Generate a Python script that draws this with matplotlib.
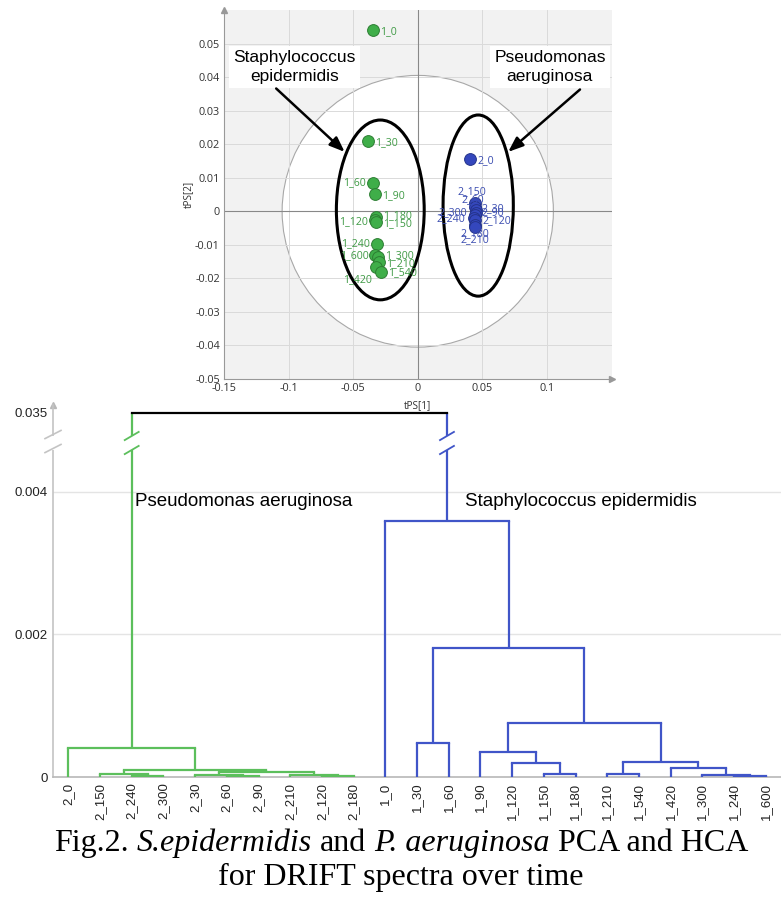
import numpy as np
import matplotlib
matplotlib.use('Agg')
import matplotlib.pyplot as plt
from matplotlib.patches import Ellipse, Rectangle
import matplotlib.transforms as mtransforms

plt.rcParams['font.family'] = ['Liberation Sans', 'DejaVu Sans']
plt.rcParams['axes.unicode_minus'] = False

# ---------------- PCA data ----------------
staph_labels = ['1_0', '1_30', '1_60', '1_90', '1_180', '1_120', '1_150', '1_240',
                '1_600', '1_300', '1_210', '1_420', '1_540']
staph_t1 = [-0.0349, -0.0388, -0.0349, -0.0333, -0.0326, -0.0330, -0.0326, -0.0316,
            -0.0328, -0.0308, -0.0300, -0.0326, -0.0287]
staph_t2 = [0.0540, 0.0209, 0.0083, 0.0050, -0.0017, -0.0025, -0.0032, -0.0099,
            -0.0131, -0.0136, -0.0151, -0.0166, -0.0181]

pseudo_labels = ['2_0', '2_150', '2_60', '2_30', '2_90', '2_300', '2_240', '2_120',
                 '2_180', '2_210']
pseudo_t1 = [0.0408, 0.0447, 0.0445, 0.0450, 0.0448, 0.0440, 0.0432, 0.0445, 0.0445, 0.0443]
pseudo_t2 = [0.0155, 0.0024, 0.0012, 0.0004, -0.0006, -0.0010, -0.0020, -0.0025,
             -0.0040, -0.0047]

pca_xticks = [-0.15, -0.1, -0.05, 0, 0.05, 0.1]
pca_xticklabels = ['-0.15', '-0.1', '-0.05', '0', '0.05', '0.1']
pca_yticks = [-0.05, -0.04, -0.03, -0.02, -0.01, 0, 0.01, 0.02, 0.03, 0.04, 0.05]
pca_yticklabels = ['-0.05', '-0.04', '-0.03', '-0.02', '-0.01', '0', '0.01', '0.02',
                   '0.03', '0.04', '0.05']

# ---------------- HCA data ----------------
leaf_labels = ['2_0', '2_150', '2_240', '2_300', '2_30', '2_60', '2_90', '2_210', '2_120',
               '2_180', '1_0', '1_30', '1_60', '1_90', '1_120', '1_150', '1_180', '1_210',
               '1_540', '1_420', '1_300', '1_240', '1_600']
# merges: node ids 0..22 are leaves, merge j creates node 23+j
merge_left = [2, 1, 5, 4, 8, 7, 26, 24, 0,
              11, 15, 14, 13, 17, 21, 20, 19, 36, 35, 32, 10, 31]
merge_right = [3, 23, 6, 25, 9, 27, 28, 29, 30,
               12, 16, 33, 34, 18, 22, 37, 38, 39, 40, 41, 42, 43]
merge_height = [0.000019, 0.000037, 0.000019, 0.000030, 0.000012, 0.000028, 0.000066,
                0.000098, 0.000403,
                0.000484, 0.000037, 0.000196, 0.000344, 0.000037, 0.000019, 0.000028,
                0.000122, 0.000210, 0.000762, 0.00181, 0.00359, 0.035]
hca_yticks = [0, 0.002, 0.004, 0.035]
hca_yticklabels = ['0', '0.002', '0.004', '0.035']

GREEN_PT = '#3fae49'
GREEN_PT_EDGE = '#2c7d32'
GREEN_TXT = '#3f9a45'
BLUE_PT = '#3447bd'
BLUE_PT_EDGE = '#24338a'
BLUE_TXT = '#3a4cb0'
GREEN_LN = '#5cbf5c'
BLUE_LN = '#4055c8'

fig = plt.figure(figsize=(7.81, 8.97), dpi=100)
W, H = 781.0, 897.0

# ================= HCA panel (drawn first, below PCA) =================
ax2 = fig.add_axes([53 / W, (H - 777) / H, (W - 53) / W, (777 - 405) / H])
ax2.patch.set_visible(False)
BRK, K = 0.0045, 0.02


def fwd(y):
    y = np.asarray(y, dtype=float)
    return np.where(y <= BRK, y, BRK + (y - BRK) * K)


def inv(y):
    y = np.asarray(y, dtype=float)
    return np.where(y <= BRK, y, BRK + (y - BRK) / K)


ax2.set_yscale('function', functions=(fwd, inv))
n = len(leaf_labels)
ax2.set_xlim(-0.483, (781 - 68.3) / 31.7)
ax2.set_ylim(0, 0.0405)

pos = {i: float(i) for i in range(n)}
hgt = {i: 0.0 for i in range(n)}
grp = {i: leaf_labels[i][0] for i in range(n)}
col_of = {'1': BLUE_LN, '2': GREEN_LN}
for j, (a, b, h) in enumerate(zip(merge_left, merge_right, merge_height)):
    node = n + j
    ga, gb = grp[a], grp[b]
    ca, cb = col_of.get(ga, 'black'), col_of.get(gb, 'black')
    hc = ca if ga == gb else 'black'
    ax2.plot([pos[a], pos[a]], [hgt[a], h], color=ca, lw=1.6, zorder=3,
             solid_capstyle='butt')
    ax2.plot([pos[b], pos[b]], [hgt[b], h], color=cb, lw=1.6, zorder=3,
             solid_capstyle='butt')
    ax2.plot([pos[a], pos[b]], [h, h], color=hc, lw=1.6, zorder=3)
    pos[node] = (pos[a] + pos[b]) / 2
    hgt[node] = h
    grp[node] = ga if ga == gb else 'x'

ax2.set_xticks(range(n))
ax2.set_xticklabels(leaf_labels, rotation=90, fontsize=9.5)
ax2.set_yticks(hca_yticks)
ax2.set_yticklabels(hca_yticklabels, fontsize=9.5)
ax2.tick_params(length=0, pad=4, colors='#222222')
for s in ['top', 'right']:
    ax2.spines[s].set_visible(False)
ax2.spines['left'].set_color('#c4c4c4')
ax2.spines['left'].set_linewidth(1.2)
ax2.spines['bottom'].set_color('#b8b8b8')
ax2.spines['bottom'].set_linewidth(1.2)
for yv in hca_yticks[1:3]:
    ax2.axhline(yv, color='#e4e4e4', lw=1.0, zorder=1)
ax2.plot([0], [1], marker='^', color='#b8b8b8', markersize=5, transform=ax2.transAxes,
         clip_on=False)

# axis break band and slashes
b_lo, b_hi = (777 - 450) / 372.0, (777 - 436) / 372.0
ax2.add_patch(Rectangle((-0.06, b_lo), 1.06, b_hi - b_lo, transform=ax2.transAxes,
                        facecolor='white', edgecolor='none', zorder=4, clip_on=False))
bt = mtransforms.blended_transform_factory(ax2.transData, ax2.transAxes)
top_nodes = [merge_left[-1], merge_right[-1]]
for node in top_nodes:
    x = pos[node]
    c = col_of.get(grp[node], 'black')
    for yb in (b_lo, b_hi):
        ax2.plot([x - 0.22, x + 0.22], [yb - 0.011, yb + 0.011], color=c, lw=1.3,
                 transform=bt, zorder=5, clip_on=False)
for yb in (b_lo + 0.004, b_hi + 0.004):
    ax2.plot([-0.011, 0.011], [yb - 0.011, yb + 0.011], color='#c4c4c4', lw=1.2,
             transform=ax2.transAxes, zorder=5, clip_on=False)

ax2.text(2.1, 0.00386, 'Pseudomonas aeruginosa', fontsize=13.5, ha='left', va='center',
         zorder=6)
ax2.text(12.52, 0.00386, 'Staphylococcus epidermidis', fontsize=13.5, ha='left',
         va='center', zorder=6)

# ================= PCA panel =================
ax1 = fig.add_axes([224 / W, (H - 379) / H, (611.5 - 224) / W, (379 - 10) / H])
ax1.set_xlim(-0.15, 0.15)
ax1.set_ylim(-0.05, 0.06)
ax1.set_facecolor('#f2f2f2')
ax1.add_patch(Ellipse((0, 0), 2 * 0.105, 2 * 0.0405, facecolor='white',
                      edgecolor='#a8a8a8', lw=0.8, zorder=1))
ax1.set_axisbelow('line')
ax1.set_xticks(pca_xticks)
ax1.set_xticklabels(pca_xticklabels)
ax1.set_yticks(pca_yticks)
ax1.set_yticklabels(pca_yticklabels)
ax1.grid(True, color='#dadada', lw=0.7)
ax1.tick_params(length=0, labelsize=7.8, colors='#333333', pad=3)
for s in ['top', 'right']:
    ax1.spines[s].set_visible(False)
for s in ['left', 'bottom']:
    ax1.spines[s].set_color('#999999')
    ax1.spines[s].set_linewidth(0.8)
ax1.axhline(0, color='#888888', lw=0.8, zorder=1.6)
ax1.axvline(0, color='#888888', lw=0.8, zorder=1.6)
ax1.plot([0], [1], marker='^', color='#999999', markersize=5, transform=ax1.transAxes,
         clip_on=False)
ax1.plot([1], [0], marker='>', color='#999999', markersize=5, transform=ax1.transAxes,
         clip_on=False)
ax1.set_xlabel('tPS[1]', fontsize=7.2, color='#333333', labelpad=4, family='Open Sans')
ax1.set_ylabel('tPS[2]', fontsize=7.2, color='#333333', labelpad=1, family='Open Sans')
for lab in ax1.get_xticklabels() + ax1.get_yticklabels():
    lab.set_family('Open Sans')

# group ellipses
ax1.add_patch(Ellipse((-0.0290, 0.0004), 0.068, 0.0536, facecolor='none',
                      edgecolor='black', lw=2.2, zorder=2))
ax1.add_patch(Ellipse((0.0468, 0.0017), 0.0544, 0.054, facecolor='none',
                      edgecolor='black', lw=2.2, zorder=2))

ax1.scatter(staph_t1, staph_t2, s=72, color=GREEN_PT, edgecolor=GREEN_PT_EDGE,
            linewidth=0.7, zorder=3)
ax1.scatter(pseudo_t1, pseudo_t2, s=72, color=BLUE_PT, edgecolor=BLUE_PT_EDGE,
            linewidth=0.7, zorder=3)

label_offsets = {
    '1_0': (7, -1, 'left'), '1_30': (7, -1, 'left'), '1_60': (-7, 1, 'right'),
    '1_90': (7, -1, 'left'), '1_180': (7, 1, 'left'), '1_120': (-7, -2, 'right'),
    '1_150': (7, -2, 'left'), '1_240': (-7, 1, 'right'), '1_600': (-7, 0, 'right'),
    '1_300': (7, 1, 'left'), '1_210': (7, -2, 'left'), '1_420': (-4, -13, 'right'),
    '1_540': (7, -1, 'left'),
    '2_0': (7, -1, 'left'), '2_150': (-4, 12, 'center'), '2_60': (-2, 8, 'center'),
    '2_30': (6, 1, 'left'), '2_90': (6, 1, 'left'), '2_300': (-7, 2, 'right'),
    '2_240': (-8, -1, 'right'), '2_120': (7, -1, 'left'), '2_180': (0, -9, 'center'),
    '2_210': (0, -13, 'center'),
}
for labs, xs, ys, col in [(staph_labels, staph_t1, staph_t2, GREEN_TXT),
                          (pseudo_labels, pseudo_t1, pseudo_t2, BLUE_TXT)]:
    for lab, x, y in zip(labs, xs, ys):
        dx, dy, ha = label_offsets[lab]
        ax1.annotate(lab, (x, y), xytext=(dx, dy), textcoords='offset pixels',
                     ha=ha, va='center', fontsize=7.6, color=col, zorder=4,
                     family='Open Sans')

box = dict(facecolor='white', edgecolor='none', pad=3)
ax1.text(-0.0953, 0.0430, 'Staphylococcus\nepidermidis', ha='center', va='center',
         fontsize=12.5, linespacing=1.3, bbox=box, zorder=5)
ax1.text(0.1023, 0.0430, 'Pseudomonas\naeruginosa', ha='center', va='center',
         fontsize=12.5, linespacing=1.3, bbox=box, zorder=5)
arrowprops = dict(arrowstyle='-|>,head_length=0.9,head_width=0.35', color='black',
                  lw=1.8, shrinkA=0, shrinkB=0)
ax1.annotate('', xy=(-0.0566, 0.0177), xytext=(-0.1096, 0.0366), arrowprops=arrowprops,
             zorder=5)
ax1.annotate('', xy=(0.0700, 0.0177), xytext=(0.1256, 0.0363), arrowprops=arrowprops,
             zorder=5)

# ================= caption =================
CAP_FS = 23
renderer = fig.canvas.get_renderer()


def text_width(s, style):
    t = fig.text(0, 0, s, fontsize=CAP_FS, family='Liberation Serif', style=style)
    w = t.get_window_extent(renderer).width
    t.remove()
    return w


space_w = text_width('x x', 'normal') - text_width('xx', 'normal')
pieces = [('Fig.2.', 'normal'), (' ', None), ('S.epidermidis', 'italic'), (' ', None),
          ('and', 'normal'), (' ', None), ('P. aeruginosa', 'italic'), (' ', None),
          ('PCA and HCA', 'normal')]
widths = [space_w if st is None else text_width(s, st) for s, st in pieces]
total = sum(widths)
x0 = 401 - total / 2
y1 = H - 843
for (s, st), w in zip(pieces, widths):
    if st is not None:
        fig.text(x0 / W, y1 / H, s, fontsize=CAP_FS, family='Liberation Serif', style=st,
                 ha='left', va='center')
    x0 += w
fig.text(401 / W, (H - 877) / H, 'for DRIFT spectra over time', ha='center', va='center',
         fontsize=CAP_FS, family='Liberation Serif')

fig.savefig('out.png', dpi=100, facecolor='white')
